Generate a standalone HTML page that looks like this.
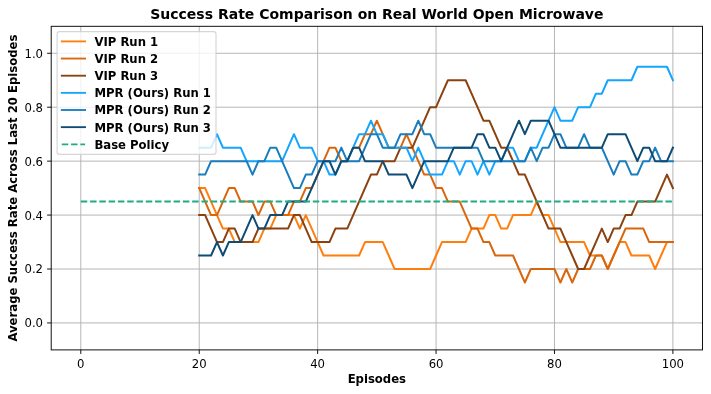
<!DOCTYPE html>
<html lang="en"><head><meta charset="utf-8"><title>Success Rate Comparison on Real World Open Microwave</title>
<style>html,body{margin:0;padding:0;background:#fff}svg{display:block;will-change:transform}text{font-family:"DejaVu Sans","Liberation Sans",sans-serif;fill:#000}.b{font-weight:bold}</style></head><body>
<svg width="711" height="394" viewBox="0 0 711 394">
<rect width="711" height="394" fill="#fff"/>
<g stroke="#b0b0b0" stroke-width="0.93" stroke-opacity="1" fill="none">
<line x1="80.80" y1="26.3" x2="80.80" y2="349.9"/>
<line x1="199.22" y1="26.3" x2="199.22" y2="349.9"/>
<line x1="317.64" y1="26.3" x2="317.64" y2="349.9"/>
<line x1="436.06" y1="26.3" x2="436.06" y2="349.9"/>
<line x1="554.48" y1="26.3" x2="554.48" y2="349.9"/>
<line x1="672.90" y1="26.3" x2="672.90" y2="349.9"/>
<line x1="51.2" y1="322.93" x2="702.5" y2="322.93"/>
<line x1="51.2" y1="269.00" x2="702.5" y2="269.00"/>
<line x1="51.2" y1="215.07" x2="702.5" y2="215.07"/>
<line x1="51.2" y1="161.13" x2="702.5" y2="161.13"/>
<line x1="51.2" y1="107.20" x2="702.5" y2="107.20"/>
<line x1="51.2" y1="53.27" x2="702.5" y2="53.27"/>
</g>
<clipPath id="c"><rect x="51.2" y="26.3" width="651.3" height="323.59999999999997"/></clipPath>
<g clip-path="url(#c)" fill="none" stroke-linejoin="round" stroke-linecap="square">
<polyline points="199.22,188.10 205.14,188.10 211.06,201.58 216.99,215.07 222.91,228.55 228.83,228.55 234.75,242.03 240.67,242.03 246.59,242.03 252.51,242.03 258.43,242.03 264.35,228.55 270.27,228.55 276.19,215.07 282.12,215.07 288.04,215.07 293.96,215.07 299.88,228.55 305.80,215.07 311.72,228.55 317.64,242.03 323.56,255.52 329.48,255.52 335.40,255.52 341.32,255.52 347.25,255.52 353.17,255.52 359.09,255.52 365.01,242.03 370.93,242.03 376.85,242.03 382.77,242.03 388.69,255.52 394.61,269.00 400.53,269.00 406.45,269.00 412.38,269.00 418.30,269.00 424.22,269.00 430.14,269.00 436.06,255.52 441.98,242.03 447.90,242.03 453.82,242.03 459.74,242.03 465.66,242.03 471.58,228.55 477.51,228.55 483.43,228.55 489.35,215.07 495.27,215.07 501.19,228.55 507.11,228.55 513.03,215.07 518.95,215.07 524.87,215.07 530.79,215.07 536.71,201.58 542.64,215.07 548.56,215.07 554.48,228.55 560.40,242.03 566.32,242.03 572.24,242.03 578.16,242.03 584.08,242.03 590.00,255.52 595.92,255.52 601.84,255.52 607.77,269.00 613.69,255.52 619.61,242.03 625.53,242.03 631.45,255.52 637.37,255.52 643.29,255.52 649.21,255.52 655.13,269.00 661.05,255.52 666.97,242.03 672.90,242.03" stroke="#ff7f0e" stroke-width="2.00"/>
<polyline points="199.22,188.10 205.14,201.58 211.06,215.07 216.99,215.07 222.91,201.58 228.83,188.10 234.75,188.10 240.67,201.58 246.59,201.58 252.51,201.58 258.43,215.07 264.35,201.58 270.27,201.58 276.19,215.07 282.12,215.07 288.04,215.07 293.96,201.58 299.88,201.58 305.80,188.10 311.72,188.10 317.64,174.62 323.56,161.13 329.48,147.65 335.40,147.65 341.32,161.13 347.25,161.13 353.17,147.65 359.09,147.65 365.01,134.17 370.93,134.17 376.85,120.68 382.77,134.17 388.69,147.65 394.61,147.65 400.53,147.65 406.45,134.17 412.38,147.65 418.30,161.13 424.22,174.62 430.14,174.62 436.06,188.10 441.98,188.10 447.90,201.58 453.82,201.58 459.74,201.58 465.66,215.07 471.58,228.55 477.51,228.55 483.43,242.03 489.35,242.03 495.27,255.52 501.19,255.52 507.11,255.52 513.03,255.52 518.95,269.00 524.87,282.48 530.79,269.00 536.71,269.00 542.64,269.00 548.56,269.00 554.48,269.00 560.40,282.48 566.32,269.00 572.24,282.48 578.16,269.00 584.08,269.00 590.00,269.00 595.92,255.52 601.84,255.52 607.77,269.00 613.69,255.52 619.61,242.03 625.53,228.55 631.45,228.55 637.37,228.55 643.29,228.55 649.21,242.03 655.13,242.03 661.05,242.03 666.97,242.03 672.90,242.03" stroke="#d9660c" stroke-width="2.00"/>
<polyline points="199.22,215.07 205.14,215.07 211.06,228.55 216.99,242.03 222.91,242.03 228.83,228.55 234.75,228.55 240.67,242.03 246.59,242.03 252.51,242.03 258.43,228.55 264.35,228.55 270.27,228.55 276.19,228.55 282.12,228.55 288.04,228.55 293.96,215.07 299.88,215.07 305.80,228.55 311.72,242.03 317.64,242.03 323.56,242.03 329.48,242.03 335.40,228.55 341.32,228.55 347.25,228.55 353.17,215.07 359.09,201.58 365.01,188.10 370.93,174.62 376.85,174.62 382.77,161.13 388.69,161.13 394.61,161.13 400.53,147.65 406.45,147.65 412.38,147.65 418.30,134.17 424.22,120.68 430.14,107.20 436.06,107.20 441.98,93.72 447.90,80.23 453.82,80.23 459.74,80.23 465.66,80.23 471.58,93.72 477.51,107.20 483.43,120.68 489.35,120.68 495.27,134.17 501.19,147.65 507.11,147.65 513.03,161.13 518.95,174.62 524.87,174.62 530.79,188.10 536.71,201.58 542.64,215.07 548.56,228.55 554.48,228.55 560.40,228.55 566.32,242.03 572.24,255.52 578.16,269.00 584.08,269.00 590.00,255.52 595.92,242.03 601.84,228.55 607.77,242.03 613.69,228.55 619.61,228.55 625.53,215.07 631.45,215.07 637.37,201.58 643.29,201.58 649.21,201.58 655.13,201.58 661.05,188.10 666.97,174.62 672.90,188.10" stroke="#8b4210" stroke-width="2.00"/>
<polyline points="199.22,147.65 205.14,147.65 211.06,147.65 216.99,134.17 222.91,147.65 228.83,147.65 234.75,147.65 240.67,147.65 246.59,161.13 252.51,161.13 258.43,161.13 264.35,161.13 270.27,161.13 276.19,161.13 282.12,161.13 288.04,147.65 293.96,134.17 299.88,147.65 305.80,147.65 311.72,147.65 317.64,161.13 323.56,161.13 329.48,174.62 335.40,174.62 341.32,161.13 347.25,161.13 353.17,147.65 359.09,134.17 365.01,134.17 370.93,120.68 376.85,134.17 382.77,134.17 388.69,147.65 394.61,147.65 400.53,147.65 406.45,147.65 412.38,161.13 418.30,147.65 424.22,161.13 430.14,174.62 436.06,174.62 441.98,174.62 447.90,161.13 453.82,161.13 459.74,174.62 465.66,161.13 471.58,161.13 477.51,174.62 483.43,161.13 489.35,174.62 495.27,161.13 501.19,161.13 507.11,147.65 513.03,147.65 518.95,161.13 524.87,161.13 530.79,147.65 536.71,147.65 542.64,134.17 548.56,120.68 554.48,107.20 560.40,120.68 566.32,120.68 572.24,120.68 578.16,107.20 584.08,107.20 590.00,107.20 595.92,93.72 601.84,93.72 607.77,80.23 613.69,80.23 619.61,80.23 625.53,80.23 631.45,80.23 637.37,66.75 643.29,66.75 649.21,66.75 655.13,66.75 661.05,66.75 666.97,66.75 672.90,80.23" stroke="#14a5ff" stroke-width="2.00"/>
<polyline points="199.22,174.62 205.14,174.62 211.06,161.13 216.99,161.13 222.91,161.13 228.83,161.13 234.75,161.13 240.67,161.13 246.59,161.13 252.51,174.62 258.43,161.13 264.35,161.13 270.27,147.65 276.19,147.65 282.12,161.13 288.04,174.62 293.96,188.10 299.88,188.10 305.80,174.62 311.72,174.62 317.64,161.13 323.56,161.13 329.48,161.13 335.40,161.13 341.32,147.65 347.25,161.13 353.17,161.13 359.09,161.13 365.01,147.65 370.93,134.17 376.85,134.17 382.77,147.65 388.69,147.65 394.61,147.65 400.53,134.17 406.45,134.17 412.38,134.17 418.30,120.68 424.22,134.17 430.14,134.17 436.06,147.65 441.98,147.65 447.90,147.65 453.82,147.65 459.74,147.65 465.66,147.65 471.58,147.65 477.51,147.65 483.43,161.13 489.35,161.13 495.27,161.13 501.19,161.13 507.11,161.13 513.03,161.13 518.95,161.13 524.87,161.13 530.79,147.65 536.71,161.13 542.64,147.65 548.56,147.65 554.48,134.17 560.40,134.17 566.32,147.65 572.24,147.65 578.16,147.65 584.08,134.17 590.00,147.65 595.92,147.65 601.84,147.65 607.77,161.13 613.69,174.62 619.61,161.13 625.53,161.13 631.45,174.62 637.37,174.62 643.29,161.13 649.21,161.13 655.13,147.65 661.05,161.13 666.97,161.13 672.90,161.13" stroke="#1a7dbd" stroke-width="2.00"/>
<polyline points="199.22,255.52 205.14,255.52 211.06,255.52 216.99,242.03 222.91,255.52 228.83,242.03 234.75,242.03 240.67,242.03 246.59,228.55 252.51,215.07 258.43,228.55 264.35,228.55 270.27,215.07 276.19,215.07 282.12,215.07 288.04,201.58 293.96,201.58 299.88,201.58 305.80,201.58 311.72,188.10 317.64,174.62 323.56,161.13 329.48,161.13 335.40,174.62 341.32,161.13 347.25,161.13 353.17,147.65 359.09,147.65 365.01,161.13 370.93,161.13 376.85,161.13 382.77,161.13 388.69,174.62 394.61,174.62 400.53,174.62 406.45,174.62 412.38,188.10 418.30,174.62 424.22,161.13 430.14,161.13 436.06,161.13 441.98,161.13 447.90,161.13 453.82,147.65 459.74,147.65 465.66,147.65 471.58,147.65 477.51,134.17 483.43,134.17 489.35,147.65 495.27,147.65 501.19,161.13 507.11,147.65 513.03,134.17 518.95,120.68 524.87,134.17 530.79,120.68 536.71,120.68 542.64,120.68 548.56,120.68 554.48,134.17 560.40,147.65 566.32,147.65 572.24,147.65 578.16,147.65 584.08,147.65 590.00,147.65 595.92,147.65 601.84,147.65 607.77,134.17 613.69,134.17 619.61,134.17 625.53,134.17 631.45,147.65 637.37,161.13 643.29,147.65 649.21,147.65 655.13,161.13 661.05,161.13 666.97,161.13 672.90,147.65" stroke="#0f4c75" stroke-width="2.00"/>
<line x1="80.80" y1="201.58" x2="672.90" y2="201.58" stroke="#1fab83" stroke-width="2.00" stroke-linecap="butt" stroke-dasharray="6.48 2.80"/>
</g>
<rect x="51.2" y="26.3" width="651.3" height="323.59999999999997" fill="none" stroke="#000" stroke-width="0.93"/>
<g stroke="#000" stroke-width="0.93">
<line x1="80.80" y1="349.9" x2="80.80" y2="353.98"/>
<line x1="199.22" y1="349.9" x2="199.22" y2="353.98"/>
<line x1="317.64" y1="349.9" x2="317.64" y2="353.98"/>
<line x1="436.06" y1="349.9" x2="436.06" y2="353.98"/>
<line x1="554.48" y1="349.9" x2="554.48" y2="353.98"/>
<line x1="672.90" y1="349.9" x2="672.90" y2="353.98"/>
<line x1="51.2" y1="322.93" x2="47.12" y2="322.93"/>
<line x1="51.2" y1="269.00" x2="47.12" y2="269.00"/>
<line x1="51.2" y1="215.07" x2="47.12" y2="215.07"/>
<line x1="51.2" y1="161.13" x2="47.12" y2="161.13"/>
<line x1="51.2" y1="107.20" x2="47.12" y2="107.20"/>
<line x1="51.2" y1="53.27" x2="47.12" y2="53.27"/>
</g>
<g font-size="11.67">
<text x="80.80" y="367.93" text-anchor="middle">0</text>
<text x="199.22" y="367.93" text-anchor="middle">20</text>
<text x="317.64" y="367.93" text-anchor="middle">40</text>
<text x="436.06" y="367.93" text-anchor="middle">60</text>
<text x="554.48" y="367.93" text-anchor="middle">80</text>
<text x="672.90" y="367.93" text-anchor="middle">100</text>
<text x="43.03" y="327.37" text-anchor="end">0.0</text>
<text x="43.03" y="273.43" text-anchor="end">0.2</text>
<text x="43.03" y="219.50" text-anchor="end">0.4</text>
<text x="43.03" y="165.57" text-anchor="end">0.6</text>
<text x="43.03" y="111.63" text-anchor="end">0.8</text>
<text x="43.03" y="57.70" text-anchor="end">1.0</text>
</g>
<text class="b" font-size="11.67" x="376.85" y="383.0" text-anchor="middle">Episodes</text>
<text class="b" font-size="11.67" transform="translate(17.3,188.10) rotate(-90)" text-anchor="middle">Average Success Rate Across Last 20 Episodes</text>
<text class="b" font-size="14.00" x="376.85" y="19.0" text-anchor="middle">Success Rate Comparison on Real World Open Microwave</text>
<rect x="57.1" y="31.6" width="158.9" height="122.8" rx="2.33" fill="#fff" fill-opacity="0.8" stroke="#ccc" stroke-opacity="0.8" stroke-width="1.17"/>
<line x1="61.77" y1="41.40" x2="85.10" y2="41.40" stroke="#ff7f0e" stroke-width="1.85" stroke-linecap="square"/>
<text class="b" font-size="11.67" x="94.43" y="45.80">VIP Run 1</text>
<line x1="61.77" y1="58.55" x2="85.10" y2="58.55" stroke="#d9660c" stroke-width="1.85" stroke-linecap="square"/>
<text class="b" font-size="11.67" x="94.43" y="62.95">VIP Run 2</text>
<line x1="61.77" y1="75.70" x2="85.10" y2="75.70" stroke="#8b4210" stroke-width="1.85" stroke-linecap="square"/>
<text class="b" font-size="11.67" x="94.43" y="80.10">VIP Run 3</text>
<line x1="61.77" y1="92.85" x2="85.10" y2="92.85" stroke="#14a5ff" stroke-width="1.85" stroke-linecap="square"/>
<text class="b" font-size="11.67" x="94.43" y="97.25">MPR (Ours) Run 1</text>
<line x1="61.77" y1="110.00" x2="85.10" y2="110.00" stroke="#1a7dbd" stroke-width="1.85" stroke-linecap="square"/>
<text class="b" font-size="11.67" x="94.43" y="114.40">MPR (Ours) Run 2</text>
<line x1="61.77" y1="127.15" x2="85.10" y2="127.15" stroke="#0f4c75" stroke-width="1.85" stroke-linecap="square"/>
<text class="b" font-size="11.67" x="94.43" y="131.55">MPR (Ours) Run 3</text>
<line x1="61.77" y1="144.30" x2="85.10" y2="144.30" stroke="#1fab83" stroke-width="1.85" stroke-dasharray="6.48 2.80" stroke-linecap="butt"/>
<text class="b" font-size="11.67" x="94.43" y="148.70">Base Policy</text>
</svg></body></html>
